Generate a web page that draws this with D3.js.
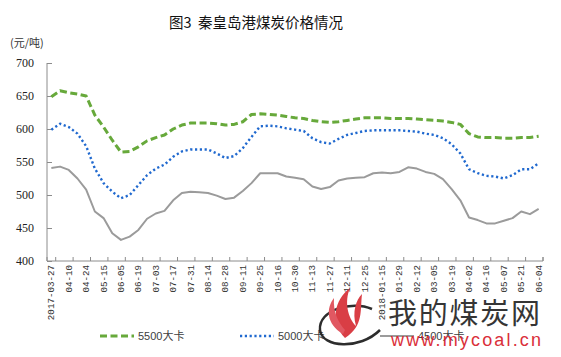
<!DOCTYPE html>
<html><head><meta charset="utf-8">
<script src="https://cdn.jsdelivr.net/npm/d3@7/dist/d3.min.js"></script>
<style>body{margin:0;background:#fff}svg{display:block}</style>
</head><body><svg id="c" width="561" height="357"></svg>
<script>
const dates = ["2017-03-27","04-03","04-10","04-17","04-24","05-02","05-15","05-22","06-05","06-12","06-19","06-26","07-03","07-10","07-17","07-24","07-31","08-07","08-14","08-21","08-28","09-04","09-11","09-18","09-25","10-09","10-16","10-23","10-30","11-06","11-13","11-20","11-27","12-04","12-11","12-18","12-25","2018-01-08","2018-01-15","01-22","01-29","02-05","02-12","02-26","03-05","03-12","03-19","03-26","04-02","04-09","04-16","04-23","05-07","05-14","05-21","05-28","06-04"];
const s5500 = [649,658,655,653,650,621,603,583,565,566,573,582,587,591,600,606,609,609,609,608,606,607,611,622,623,622,621,619,617,616,613,611,610,611,613,615,617,617,617,616,616,616,615,614,613,612,610,607,593,588,587,587,586,586,587,587,589];
const s5000 = [599,608,603,593,574,540,518,505,495,500,515,530,540,546,558,566,569,569,569,563,556,559,571,588,604,605,604,601,599,597,586,580,578,585,591,594,597,598,598,598,598,597,596,593,591,586,577,563,539,533,529,528,525,530,539,539,548];
const s4500 = [541,543,538,525,508,475,465,442,432,437,447,464,472,476,492,503,505,504,503,499,494,496,506,518,533,533,533,528,526,524,513,509,512,522,525,526,527,533,534,533,535,542,540,535,532,524,509,492,466,462,457,457,461,465,475,471,479];
const seriesNames = ["5500大卡","5000大卡","4500大卡"];
const yTicks = [400,450,500,550,600,650,700];
const title = "图3  秦皇岛港煤炭价格情况";
const unit = "(元/吨)";

const svg = d3.select("#c");
const L=47, R=543, T=63, B=261;
const x = d3.scaleBand().domain(d3.range(dates.length)).range([L,R]);
const y = d3.scaleLinear().domain([400,700]).range([B,T]);
const cx = i => x(i)+x.bandwidth()/2;
const axisCol="#8c8c8c";

svg.append("text").attr("x",256).attr("y",28).attr("text-anchor","middle")
  .attr("font-family","'Noto Sans CJK SC'").attr("font-size",14.5).attr("fill","#111").attr("xml:space","preserve").text(title);
svg.append("text").attr("x",10).attr("y",47).attr("font-family","'Noto Sans CJK SC'").attr("font-size",11).attr("fill","#333").text(unit);

// y axis
const ya = svg.append("g").attr("transform",`translate(${L},0)`)
  .call(d3.axisLeft(y).tickValues(yTicks).tickSize(-5).tickPadding(13).tickFormat(d3.format("d")));
ya.select(".domain").attr("stroke",axisCol).attr("d",`M0,${T}V${B}`);
ya.selectAll(".tick line").attr("stroke",axisCol);
ya.selectAll(".tick text").attr("font-family","'Liberation Serif'").attr("font-size",12).attr("fill","#222");

// x axis
const xa = svg.append("g").attr("transform",`translate(0,${B})`);
xa.append("line").attr("x1",L).attr("x2",R).attr("stroke",axisCol);
const tickPos = [L];
for(let i=0;i<dates.length;i+=2){ tickPos.push(Math.min(R, x(i)+x.bandwidth()+ (i===dates.length-1?0:0))); }
tickPos.push(R);
xa.selectAll("line.t").data(tickPos).join("line").attr("class","t")
  .attr("x1",d=>d).attr("x2",d=>d).attr("y1",0).attr("y2",-4).attr("stroke",axisCol);
xa.selectAll("text").data(d3.range(0,dates.length,2)).join("text")
  .attr("transform",i=>`translate(${cx(i)},4) rotate(-90)`)
  .attr("text-anchor","end").attr("dy","0.33em")
  .attr("font-family","'Liberation Mono'").attr("font-size",9.2).attr("fill","#333")
  .text(i=>dates[i]);

// lines
const line = d3.line().x((d,i)=>cx(i)).y(d=>y(d)).curve(d3.curveLinear);
const styles = [
  {data:s5500, color:"#67a93b", w:3, dash:"7 3.5", cap:"butt"},
  {data:s5000, color:"#2069cf", w:2.4, dash:"2.2 2.6", cap:"butt"},
  {data:s4500, color:"#9b9b9b", w:2, dash:null, cap:"butt"}
];
styles.slice().reverse().forEach(s=>{
  svg.append("path").datum(s.data).attr("d",line).attr("fill","none")
    .attr("stroke",s.color).attr("stroke-width",s.w).attr("stroke-linejoin","round")
    .attr("stroke-linecap",s.cap).attr("stroke-dasharray",s.dash);
});

// legend
const lg = svg.append("g");
styles.forEach((s,k)=>{
  const x0 = 100 + 140*k, yy = 336;
  lg.append("line").attr("x1",x0).attr("x2",x0+34).attr("y1",yy).attr("y2",yy)
    .attr("stroke",s.color).attr("stroke-width",s.w).attr("stroke-dasharray",s.dash);
  lg.append("text").attr("x",x0+38).attr("y",yy+4).attr("font-family","'Liberation Sans','Noto Sans CJK SC'")
    .attr("font-size",11).attr("fill","#404040").text(seriesNames[k]);
});

// watermark
const wm = svg.append("g").attr("opacity",0.95);
wm.append("path").attr("d","M372,309 C352,300 318,310 320,330 C322,348 360,350 380,330")
  .attr("fill","none").attr("stroke","#222").attr("stroke-width",2.5);
wm.append("path").attr("d","M345,338 C330,322 334,300 350,288 C344,302 348,318 356,326 C352,312 356,300 362,294 C360,310 364,326 345,338 Z")
  .attr("fill","#d8343c");
wm.append("path").attr("d","M343,334 C326,324 326,308 334,298 C333,312 338,322 345,330 Z").attr("fill","#e0505a");
wm.append("text").attr("x",388).attr("y",324).attr("font-family","'Noto Sans CJK SC'").attr("font-size",29)
  .attr("fill","#2b2b2b").attr("textLength",152).text("我的煤炭网");
wm.append("text").attr("x",391).attr("y",346).attr("font-family","'Liberation Sans'").attr("font-size",18)
  .attr("fill","#d9242f").attr("textLength",150).text("www.mycoal.cn");
</script></body></html>
